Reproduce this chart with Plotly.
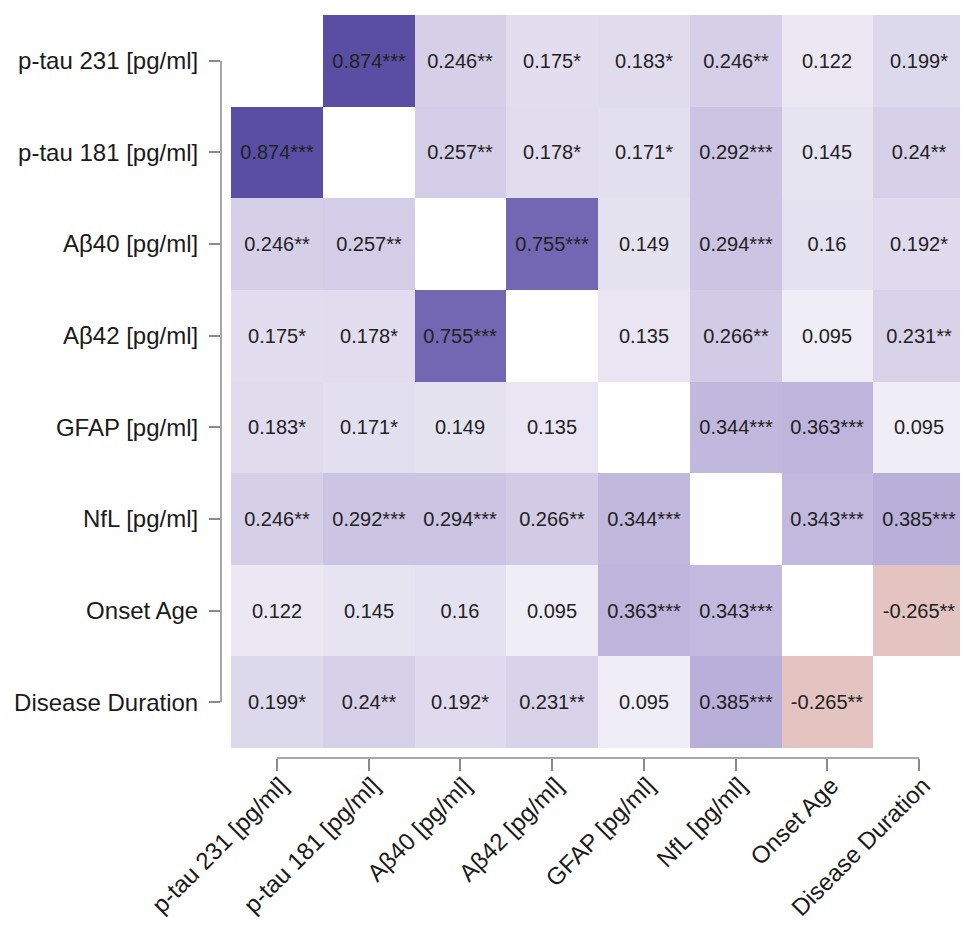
import plotly.graph_objects as go

labels = ["p-tau 231 [pg/ml]", "p-tau 181 [pg/ml]", "Aβ40 [pg/ml]", "Aβ42 [pg/ml]",
          "GFAP [pg/ml]", "NfL [pg/ml]", "Onset Age", "Disease Duration"]

# correlation matrix (diagonal = None)
r_ptau231 = [None, 0.874, 0.246, 0.175, 0.183, 0.246, 0.122, 0.199]
r_ptau181 = [0.874, None, 0.257, 0.178, 0.171, 0.292, 0.145, 0.24]
r_ab40 = [0.246, 0.257, None, 0.755, 0.149, 0.294, 0.16, 0.192]
r_ab42 = [0.175, 0.178, 0.755, None, 0.135, 0.266, 0.095, 0.231]
r_gfap = [0.183, 0.171, 0.149, 0.135, None, 0.344, 0.363, 0.095]
r_nfl = [0.246, 0.292, 0.294, 0.266, 0.344, None, 0.343, 0.385]
r_onset = [0.122, 0.145, 0.16, 0.095, 0.363, 0.343, None, -0.265]
r_duration = [0.199, 0.24, 0.192, 0.231, 0.095, 0.385, -0.265, None]

s_ptau231 = ["", "***", "**", "*", "*", "**", "", "*"]
s_ptau181 = ["***", "", "**", "*", "*", "***", "", "**"]
s_ab40 = ["**", "**", "", "***", "", "***", "", "*"]
s_ab42 = ["*", "*", "***", "", "", "**", "", "**"]
s_gfap = ["*", "*", "", "", "", "***", "***", ""]
s_nfl = ["**", "***", "***", "**", "***", "", "***", "***"]
s_onset = ["", "", "", "", "***", "***", "", "**"]
s_duration = ["*", "**", "*", "**", "", "***", "**", ""]

z = [r_ptau231, r_ptau181, r_ab40, r_ab42, r_gfap, r_nfl, r_onset, r_duration]
stars = [s_ptau231, s_ptau181, s_ab40, s_ab42, s_gfap, s_nfl, s_onset, s_duration]
text = [["" if v is None else f"{v}{s}" for v, s in zip(row, srow)] for row, srow in zip(z, stars)]

def p(v):
    return (v + 1) / 2

colorscale = [
    [p(-1.0), "rgb(150,40,30)"],
    [p(-0.265), "rgb(228,196,192)"],
    [p(0.0), "rgb(255,255,255)"],
    [p(0.122), "rgb(235,232,244)"],
    [p(0.246), "rgb(213,208,232)"],
    [p(0.385), "rgb(184,176,217)"],
    [p(0.755), "rgb(115,103,180)"],
    [p(0.874), "rgb(89,78,163)"],
    [p(1.0), "rgb(70,58,150)"],
]

fig = go.Figure(go.Heatmap(
    z=z, x=labels, y=labels, text=text, texttemplate="%{text}",
    textfont=dict(size=20, color="#222222", family="Liberation Sans, Arial"),
    colorscale=colorscale, zmin=-1, zmax=1, showscale=False, hoverongaps=False,
))

axcol = "#8a8a8a"
fig.update_layout(
    width=960, height=919,
    margin=dict(l=213, r=3, t=7, b=169),
    plot_bgcolor="white", paper_bgcolor="white",
    font=dict(family="Liberation Sans, Arial", size=24, color="#1a1a1a"),
    xaxis=dict(range=[-0.609, 7.5], showgrid=False, zeroline=False, showline=False,
               automargin=False, tickfont=dict(size=24),
               ticks="outside", ticklen=12, tickwidth=1.5, tickcolor=axcol,
               tickangle=-45, ticklabelstandoff=-9, ticklabelshift=4),
    yaxis=dict(range=[7.609, -0.5], showgrid=False, zeroline=False, showline=False,
               automargin=False,
               ticks="outside", ticklen=11, tickwidth=1.5, tickcolor=axcol,
               ticklabelstandoff=6),
    shapes=[
        dict(type="line", xref="paper", yref="y", x0=0, x1=0, y0=0, y1=7,
             line=dict(color=axcol, width=1.5)),
        dict(type="line", xref="x", yref="paper", x0=0, x1=7, y0=0, y1=0,
             line=dict(color=axcol, width=1.5)),
    ],
)

fig.write_html("out.html")
